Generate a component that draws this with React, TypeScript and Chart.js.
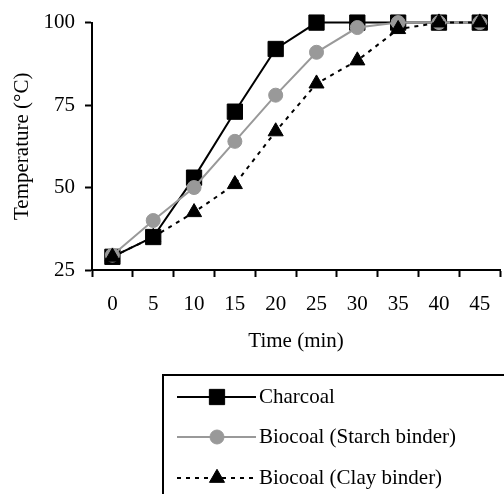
import { useEffect, useRef } from 'react';
import { Chart, registerables } from 'chart.js';
import { drawPoint } from 'chart.js/helpers';

Chart.register(...registerables);

const timeLabels = ['0', '5', '10', '15', '20', '25', '30', '35', '40', '45'];
const charcoal = [29, 35, 53, 73, 92, 100, 100, 100, 100, 100];
const starchBinder = [29.5, 40, 50, 64, 78, 91, 98.5, 100, 100, 100];
const clayBinder = [29, 35, 42.5, 51, 67, 81.5, 88.5, 98, 100, 100];
const yTicks = [25, 50, 75, 100];
const seriesNames = ['Charcoal', 'Biocoal (Starch binder)', 'Biocoal (Clay binder)'];

const FONT = '"Liberation Serif", "Times New Roman", serif';
const GRAY = '#999999';

const legendPlugin = {
  id: 'boxLegend',
  afterDraw(chart: any) {
    const ctx = chart.ctx as CanvasRenderingContext2D;
    ctx.save();
    ctx.lineWidth = 2;
    ctx.strokeStyle = '#000';
    ctx.setLineDash([]);
    ctx.strokeRect(163, 375, 700, 400);
    const rows = [397, 437, 478];
    chart.data.datasets.forEach((ds: any, i: number) => {
      const y = rows[i];
      ctx.save();
      ctx.beginPath();
      ctx.setLineDash(ds.borderDash || []);
      ctx.lineWidth = ds.borderWidth;
      ctx.strokeStyle = ds.borderColor;
      ctx.moveTo(177, y);
      ctx.lineTo(256, y);
      ctx.stroke();
      ctx.setLineDash([]);
      ctx.fillStyle = ds.pointBackgroundColor;
      ctx.strokeStyle = ds.pointBorderColor;
      ctx.lineWidth = 1;
      drawPoint(ctx, { pointStyle: ds.pointStyle, radius: ds.pointRadius, rotation: 0, borderWidth: 1 } as any, 217, y);
      ctx.restore();
      ctx.fillStyle = '#000';
      ctx.font = `21px ${FONT}`;
      ctx.textBaseline = 'middle';
      ctx.textAlign = 'left';
      ctx.fillText(ds.label, 259, y);
    });
    ctx.restore();
  },
};

export default function App() {
  const ref = useRef<HTMLCanvasElement | null>(null);

  useEffect(() => {
    if (!ref.current) return;
    Chart.defaults.font.family = FONT;
    Chart.defaults.font.size = 21;
    Chart.defaults.color = '#000';

    const chart = new Chart(ref.current, {
      type: 'line',
      data: {
        labels: timeLabels,
        datasets: [
          {
            label: seriesNames[0],
            data: charcoal,
            borderColor: '#000',
            borderWidth: 2,
            pointStyle: 'rect',
            pointRadius: 10.8,
            pointBackgroundColor: '#000',
            pointBorderColor: '#000',
            pointBorderWidth: 1,
            tension: 0,
            clip: false,
            order: 3,
          },
          {
            label: seriesNames[1],
            data: starchBinder,
            borderColor: GRAY,
            borderWidth: 2,
            pointStyle: 'circle',
            pointRadius: 7,
            pointBackgroundColor: GRAY,
            pointBorderColor: GRAY,
            pointBorderWidth: 1,
            tension: 0,
            clip: false,
            order: 2,
          },
          {
            label: seriesNames[2],
            data: clayBinder,
            borderColor: '#000',
            borderWidth: 2,
            borderDash: [4, 5],
            pointStyle: 'triangle',
            pointRadius: 8.7,
            pointBackgroundColor: '#000',
            pointBorderColor: '#000',
            pointBorderWidth: 1,
            tension: 0,
            clip: false,
            order: 1,
          },
        ] as any,
      },
      options: {
        animation: false,
        responsive: false,
        devicePixelRatio: 1,
        layout: { padding: { top: 21, left: 0, right: 0, bottom: 0 } },
        plugins: { legend: { display: false }, tooltip: { enabled: false } },
        scales: {
          x: {
            type: 'category',
            offset: true,
            grid: {
              display: true,
              drawOnChartArea: false,
              drawTicks: true,
              tickLength: 7,
              tickColor: '#000',
              tickWidth: 2,
              offset: true,
            },
            border: { display: true, color: '#000', width: 2 },
            ticks: { color: '#000', padding: 15, maxRotation: 0, autoSkip: false, font: { size: 21, family: FONT } },
            title: {
              display: true,
              text: 'Time (min)',
              color: '#000',
              font: { size: 21, family: FONT },
              padding: { top: 0, bottom: 140 },
              align: 'center',
            },
            afterFit: (s: any) => {
              s.height = 224;
            },
          },
          y: {
            min: 25,
            max: 100,
            grid: {
              display: true,
              drawOnChartArea: false,
              drawTicks: true,
              tickLength: 7,
              tickColor: '#000',
              tickWidth: 2,
            },
            border: { display: true, color: '#000', width: 2 },
            ticks: { color: '#000', padding: 10, font: { size: 21, family: FONT } },
            afterBuildTicks: (s: any) => {
              s.ticks = yTicks.map((v) => ({ value: v }));
            },
            title: {
              display: true,
              text: 'Temperature (°C)',
              color: '#000',
              font: { size: 21, family: FONT },
              padding: { top: 10, bottom: 0 },
            },
            afterFit: (s: any) => {
              s.width = 92;
            },
          },
        },
      } as any,
      plugins: [legendPlugin],
    });
    return () => chart.destroy();
  }, []);

  return (
    <div style={{ position: 'absolute', left: 0, top: 0, width: 504, height: 494, overflow: 'hidden', background: '#fff' }}>
      <canvas ref={ref} width={512} height={494} style={{ width: 512, height: 494, display: 'block' }} />
    </div>
  );
}
